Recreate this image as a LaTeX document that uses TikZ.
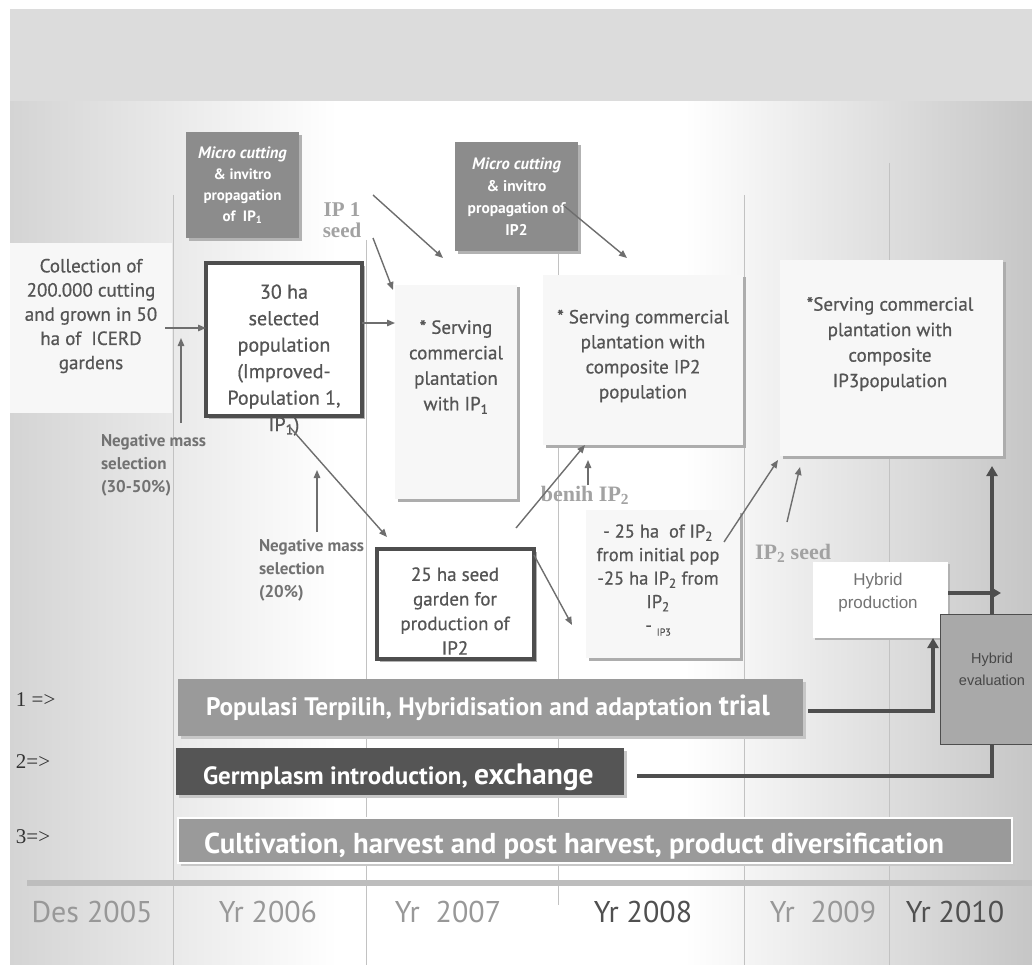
\documentclass[tikz,border=0pt]{standalone}
\usepackage{fontspec}
\setmainfont{PT Sans}
\newfontfamily\semiB{PT Sans}[FakeBold=0.7]
\newfontfamily\serifB{Liberation Serif}
\newfontfamily\arialF{Liberation Sans}
\usetikzlibrary{arrows.meta,shadows}
\definecolor{txtgray}{HTML}{555555}
\definecolor{lblgray}{HTML}{727272}
\definecolor{boxgray}{HTML}{8C8C8C}
\definecolor{bargray}{HTML}{9A9A9A}
\definecolor{bardark}{HTML}{555555}
\definecolor{arrgray}{HTML}{6E6E6E}
\definecolor{heavygray}{HTML}{4E4E4E}
\definecolor{gridgray}{HTML}{C2C2C2}
\definecolor{serifgray}{HTML}{A2A2A2}
\definecolor{topband}{HTML}{DCDCDC}
\definecolor{yeargray}{HTML}{989898}
\definecolor{yeardark}{HTML}{505050}
\definecolor{evalgray}{HTML}{A9A9A9}
\definecolor{bgleft}{HTML}{D4D4D4}
\definecolor{bgright}{HTML}{C6C6C6}
\pgfdeclarehorizontalshading{bgshade}{100bp}{color(0bp)=(bgleft); color(25bp)=(bgleft); color(41bp)=(white); color(58bp)=(white); color(75bp)=(bgright); color(100bp)=(bgright)}
\newcommand\fsz[2]{\fontsize{#1}{#2}\selectfont}
\begin{document}
\begin{tikzpicture}[x=1pt,y=-1pt,
  every node/.style={inner sep=0pt, outer sep=0pt},
  arr/.style={draw=arrgray, line width=1.4pt, -{Triangle[length=8pt,width=6.5pt]}},
  heavy/.style={draw=heavygray, line width=4pt},
  heavyarr/.style={heavy, -{Triangle[length=10pt,width=11pt]}},
  gridl/.style={draw=gridgray, line width=0.9pt},
  txt/.style={text=txtgray, align=center},
  lbl/.style={text=lblgray, align=left, font=\bfseries\fsz{17}{23}},
  serlbl/.style={text=serifgray, font=\serifB\bfseries\fsz{21}{21}},
  micro/.style={fill=boxgray, text=white, align=center, font=\bfseries\fsz{15}{21},
    drop shadow={shadow xshift=3pt, shadow yshift=-3pt, fill=black!30, opacity=1}},
  paper/.style={fill=white!97!black,
    drop shadow={shadow xshift=2.5pt, shadow yshift=-2.5pt, fill=black!32, opacity=1}},
  bigbox/.style={fill=white, draw=heavygray, line width=3.5pt,
    drop shadow={shadow xshift=3pt, shadow yshift=-3pt, fill=black!30, opacity=1}},
  bar/.style={drop shadow={shadow xshift=3pt, shadow yshift=-3pt, fill=black!22, opacity=1}},
  bartxt/.style={text=white, anchor=west},
  year/.style={font=\fsz{30}{30}, text=yeargray},
  rowlbl/.style={font=\serifB\fsz{21}{21}, text=black!80, anchor=west},
]
\useasboundingbox (0,0) rectangle (1032,965);
% background
\fill[white] (0,0) rectangle (1032,965);
\fill[topband] (10,9) rectangle (1032,102);
\shade[shading=bgshade] (10,102) rectangle (1032,965);
% grid lines
\draw[gridl] (173,195) -- (173,965);
\draw[gridl] (366,240) -- (366,965);
\draw[gridl] (558,253) -- (558,905);
\draw[gridl] (744,195) -- (744,965);
\draw[gridl] (889,163) -- (889,965);
% timeline
\fill[black!26] (27,880) rectangle (1032,886);
\node[year] (y05) at (92,912) {Des 2005};
\node[year] (y06) at (268,912) {Yr 2006};
\node[year] (y07) at (448,912) {Yr\ \ 2007};
\node[year, text=yeardark] (y08) at (643,912) {Yr 2008};
\node[year] (y09) at (823,912) {Yr\ \ 2009};
\node[year, text=yeardark] (y10) at (955,912) {Yr 2010};

% micro cutting boxes
\node[micro, anchor=north west, minimum width=113, minimum height=106] (mc1) at (186,132)
  {{\itshape\fsz{16.5}{21}Micro cutting}\\\& invitro\\propagation\\of\ \ IP\textsubscript{1}};
\node[micro, anchor=north west, minimum width=123, minimum height=109, font=\bfseries\fsz{15.5}{22}] (mc2) at (455,142)
  {{\itshape\fsz{16.5}{22}Micro cutting}\\\& invitro\\propagation of\\IP2};
\node[serlbl, align=center] (ipseed) at (342,220) {IP 1\\seed};

% collection box
\node[fill=white!97!black, anchor=north west, minimum width=162, minimum height=170] (coll) at (10,243) {};
\node[txt, font=\semiB\fsz{19}{24.2}] (collt) at (91,316) {Collection of\\200.000 cutting\\and grown in 50\\ha of\ \ ICERD\\gardens};

% 30 ha selected population
\node[bigbox, anchor=north west, minimum width=156, minimum height=153] (sel) at (206,263) {};
\node[txt, font=\semiB\fsz{20}{26.5}] (selt) at (284,360) {30 ha\\selected\\population\\(Improved-\\Population 1,\\IP\textsubscript{1})};

% serving boxes
\node[paper, anchor=north west, minimum width=122, minimum height=214] (serv1) at (395,285) {};
\node[txt, font=\semiB\fsz{19}{25.5}] (serv1t) at (456,367) {* Serving\\commercial\\plantation\\with IP\textsubscript{1}};
\node[paper, anchor=north west, minimum width=200, minimum height=170] (serv2) at (543,275) {};
\node[txt, font=\semiB\fsz{19}{25}] (serv2t) at (643,356) {* Serving commercial\\plantation with\\composite IP2\\population};
\node[paper, anchor=north west, minimum width=223, minimum height=196] (serv3) at (780,260) {};
\node[txt, font=\semiB\fsz{19}{25.5}] (serv3t) at (890,344) {*Serving commercial\\plantation with\\composite\\IP3population};

% negative mass labels
\node[lbl, anchor=west] (neg1) at (101,465) {Negative mass\\selection\\(30-50\%)};
\node[lbl, anchor=west] (neg2) at (259,570) {Negative mass\\selection\\(20\%)};

% 25 ha seed garden
\node[bigbox, anchor=north west, minimum width=157, minimum height=110] (sbox) at (377,549) {};
\node[txt, font=\semiB\fsz{19}{24.6}] (sboxt) at (455,611) {25 ha seed\\garden for\\production of\\IP2};

% IP2 list box
\node[paper, anchor=north west, minimum width=154, minimum height=148] (lst) at (586,510) {};
\node[txt, font=\semiB\fsz{18.5}{23.5}] (lstt) at (658,580) {- 25 ha\ \ of IP\textsubscript{2}\\from initial pop\\-25 ha IP\textsubscript{2} from\\IP\textsubscript{2}\\- \raisebox{-4pt}{\fsz{10}{10}IP3}};

\node[serlbl, font=\serifB\bfseries\fsz{22}{22}] (benih) at (585,495) {benih IP\textsubscript{2}};
\node[serlbl, font=\serifB\bfseries\fsz{22}{22}, anchor=west] (ip2seed) at (755,553) {IP\textsubscript{2} seed};

% hybrid production / evaluation
\node[fill=white, anchor=north west, minimum width=135, minimum height=76,
  drop shadow={shadow xshift=2pt, shadow yshift=-2pt, fill=black!30, opacity=1}] (hp) at (813,562) {};
\node[text=black!55, align=center, font=\arialF\fsz{17}{23}] (hpt) at (878,593) {Hybrid\\production};
\node[fill=evalgray, draw=heavygray, line width=1pt, anchor=north west, minimum width=104, minimum height=130] (he) at (940,614) {};
\node[text=black!72, align=center, font=\arialF\fsz{14.5}{22}] (het) at (992,669) {Hybrid\\evaluation};

% bars
\node[bar, fill=bargray, anchor=north west, minimum width=625, minimum height=57] (bar1) at (178,679) {};
\node[bartxt, font=\bfseries\fsz{25.3}{25.3}] (bar1t) at (206,708) {Populasi Terpilih, Hybridisation and adaptation {\fsz{29}{29}trial}};
\node[bar, fill=bardark, anchor=north west, minimum width=448, minimum height=47] (bar2) at (176,748) {};
\node[bartxt, font=\bfseries\fsz{25}{25}] (bar2t) at (203,777) {Germplasm introduction, {\fsz{29.5}{29.5}exchange}};
\node[bar, fill=bargray, draw=white, line width=1.5pt, anchor=north west, minimum width=834, minimum height=45] (bar3) at (178,818) {};
\node[bartxt, font=\bfseries\fsz{28.8}{28.8}] (bar3t) at (204,846) {Cultivation, harvest and post harvest, product diversification};

\node[rowlbl] (r1) at (16,700) {1 =>};
\node[rowlbl] (r2) at (16,762) {2=>};
\node[rowlbl] (r3) at (16,837) {3=>};

% coordinates for free ends
\coordinate (nm1s) at (181,423);
\coordinate (nm1e) at (181,338);
\coordinate (a4s) at (373,195);
\coordinate (a4e) at (443,258);
\coordinate (a5s) at (373,238);
\coordinate (a5e) at (393,290);
\coordinate (a6s) at (563,205);
\coordinate (a6e) at (627,258);
\coordinate (a7s) at (288,425);
\coordinate (nm2s) at (317,532);
\coordinate (nm2e) at (317,470);
\coordinate (a9s) at (516,528);
\coordinate (a9e) at (585,445);
\coordinate (a10s) at (588,485);
\coordinate (a10e) at (588,460);
\coordinate (a11e) at (572,625);
\coordinate (a12s) at (724,542);
\coordinate (a12e) at (778,460);
\coordinate (a13s) at (787,522);
\coordinate (a13e) at (800,467);
\coordinate (t4e) at (1001,593);

% thin arrows
\draw[arr] ([xshift=-7pt]coll.east) -- (sel.west |- coll.east);
\draw[arr] (nm1s) -- (nm1e);
\draw[arr] (sel.east |- 0,323) -- (serv1.west |- 0,323);
\draw[arr] (a4s) -- (a4e);
\draw[arr] (a5s) -- (a5e);
\draw[arr] (a6s) -- (a6e);
\draw[arr] (a7s) -- ([shift={(10pt,12pt)}]sbox.north west);
\draw[arr] (nm2s) -- (nm2e);
\draw[arr] (a9s) -- (a9e);
\draw[arr] (a10s) -- (a10e);
\draw[arr] ([yshift=-6pt]sbox.north east) -- (a11e);
\draw[arr] (a12s) -- (a12e);
\draw[arr] (a13s) -- (a13e);

% heavy connectors
\draw[heavyarr] ([shift={(5pt,-3pt)}]bar1.east) -| ([xshift=-15pt]hp.south east);
\draw[heavy] ([shift={(13pt,-4pt)}]bar2.east) -| (he.south);
\draw[heavyarr, line width=3.2pt, shorten >=10pt] (he.north) -- (he.north |- serv3.south);
\draw[heavyarr] ([yshift=7pt]hp.east) -- (t4e);
\end{tikzpicture}
\end{document}
